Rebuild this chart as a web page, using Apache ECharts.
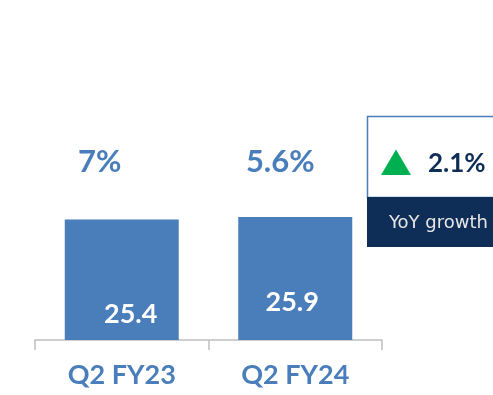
<!DOCTYPE html>
<html>
<head>
<meta charset="utf-8">
<script src="https://cdn.jsdelivr.net/npm/echarts@6/dist/echarts.min.js"></script>
<style>
  html, body { margin: 0; padding: 0; background: #ffffff; }
  #chart { width: 493px; height: 395px; }
</style>
</head>
<body>
<div id="chart"></div>
<script>
// Quarterly figures
const categories = ['Q2 FY23', 'Q2 FY24'];
const values = [25.4, 25.9];
const growthLabels = ['7%', '5.6%'];
const yoyGrowth = '2.1%';
const yoyCaption = 'YoY growth';

const BLUE = '#4a7ebb';
const NAVY = '#0f2e57';
const FONT = 'Lato, "Open Sans", sans-serif';
const GROWTH_ROW = 37.5; // axis units where the growth row sits

// per-bar tweaks of the label placement
const valueOffsets = [[9, 35], [-3, 24]];
const growthOffsets = [[-22, 0], [-15, 0]];

const chart = echarts.init(document.getElementById('chart'), null, { renderer: 'canvas' });

chart.setOption({
  animation: false,
  grid: { left: 35, right: 111, top: 55.3, bottom: 55, containLabel: false },
  xAxis: {
    type: 'category',
    data: categories,
    boundaryGap: true,
    axisLine: { lineStyle: { color: '#bfbfbf', width: 1.5 } },
    axisTick: { show: true, length: 10, inside: false, alignWithLabel: false, lineStyle: { color: '#bfbfbf', width: 1.5 } },
    axisLabel: { color: BLUE, fontFamily: FONT, fontWeight: 'bold', fontSize: 27, margin: 22 }
  },
  yAxis: {
    type: 'value', min: 0, max: 60,
    show: false, splitLine: { show: false }
  },
  series: [
    {
      type: 'bar',
      barWidth: 114,
      itemStyle: { color: BLUE },
      data: values.map((v, i) => ({
        value: v,
        label: {
          show: true, position: 'inside', offset: valueOffsets[i],
          color: '#ffffff', fontFamily: FONT, fontWeight: 'bold', fontSize: 27
        }
      }))
    },
    {
      type: 'scatter',
      symbolSize: 0,
      silent: true,
      itemStyle: { opacity: 1 },
      data: growthLabels.map((t, i) => ({
        value: [i, GROWTH_ROW],
        label: {
          show: true, position: 'inside', offset: growthOffsets[i],
          formatter: t,
          color: BLUE, fontFamily: FONT, fontWeight: 'bold', fontSize: 31
        }
      }))
    }
  ],
  graphic: [
    { type: 'rect', shape: { x: 367.5, y: 116.5, width: 150, height: 81 },
      style: { fill: '#ffffff', stroke: BLUE, lineWidth: 1.5 } },
    { type: 'rect', shape: { x: 367, y: 197, width: 150, height: 50 },
      style: { fill: NAVY } },
    { type: 'polygon', shape: { points: [[381, 175], [396, 149.5], [411, 175]] },
      style: { fill: '#00b050' } },
    { type: 'text', x: 428, y: 164,
      style: { text: yoyGrowth, fill: NAVY, font: 'bold 26px ' + FONT, textVerticalAlign: 'middle' } },
    { type: 'text', x: 389, y: 223,
      style: { text: yoyCaption, fill: '#e6e6e6', font: '18px "DejaVu Sans", sans-serif', textVerticalAlign: 'middle' } }
  ]
});
</script>
</body>
</html>
